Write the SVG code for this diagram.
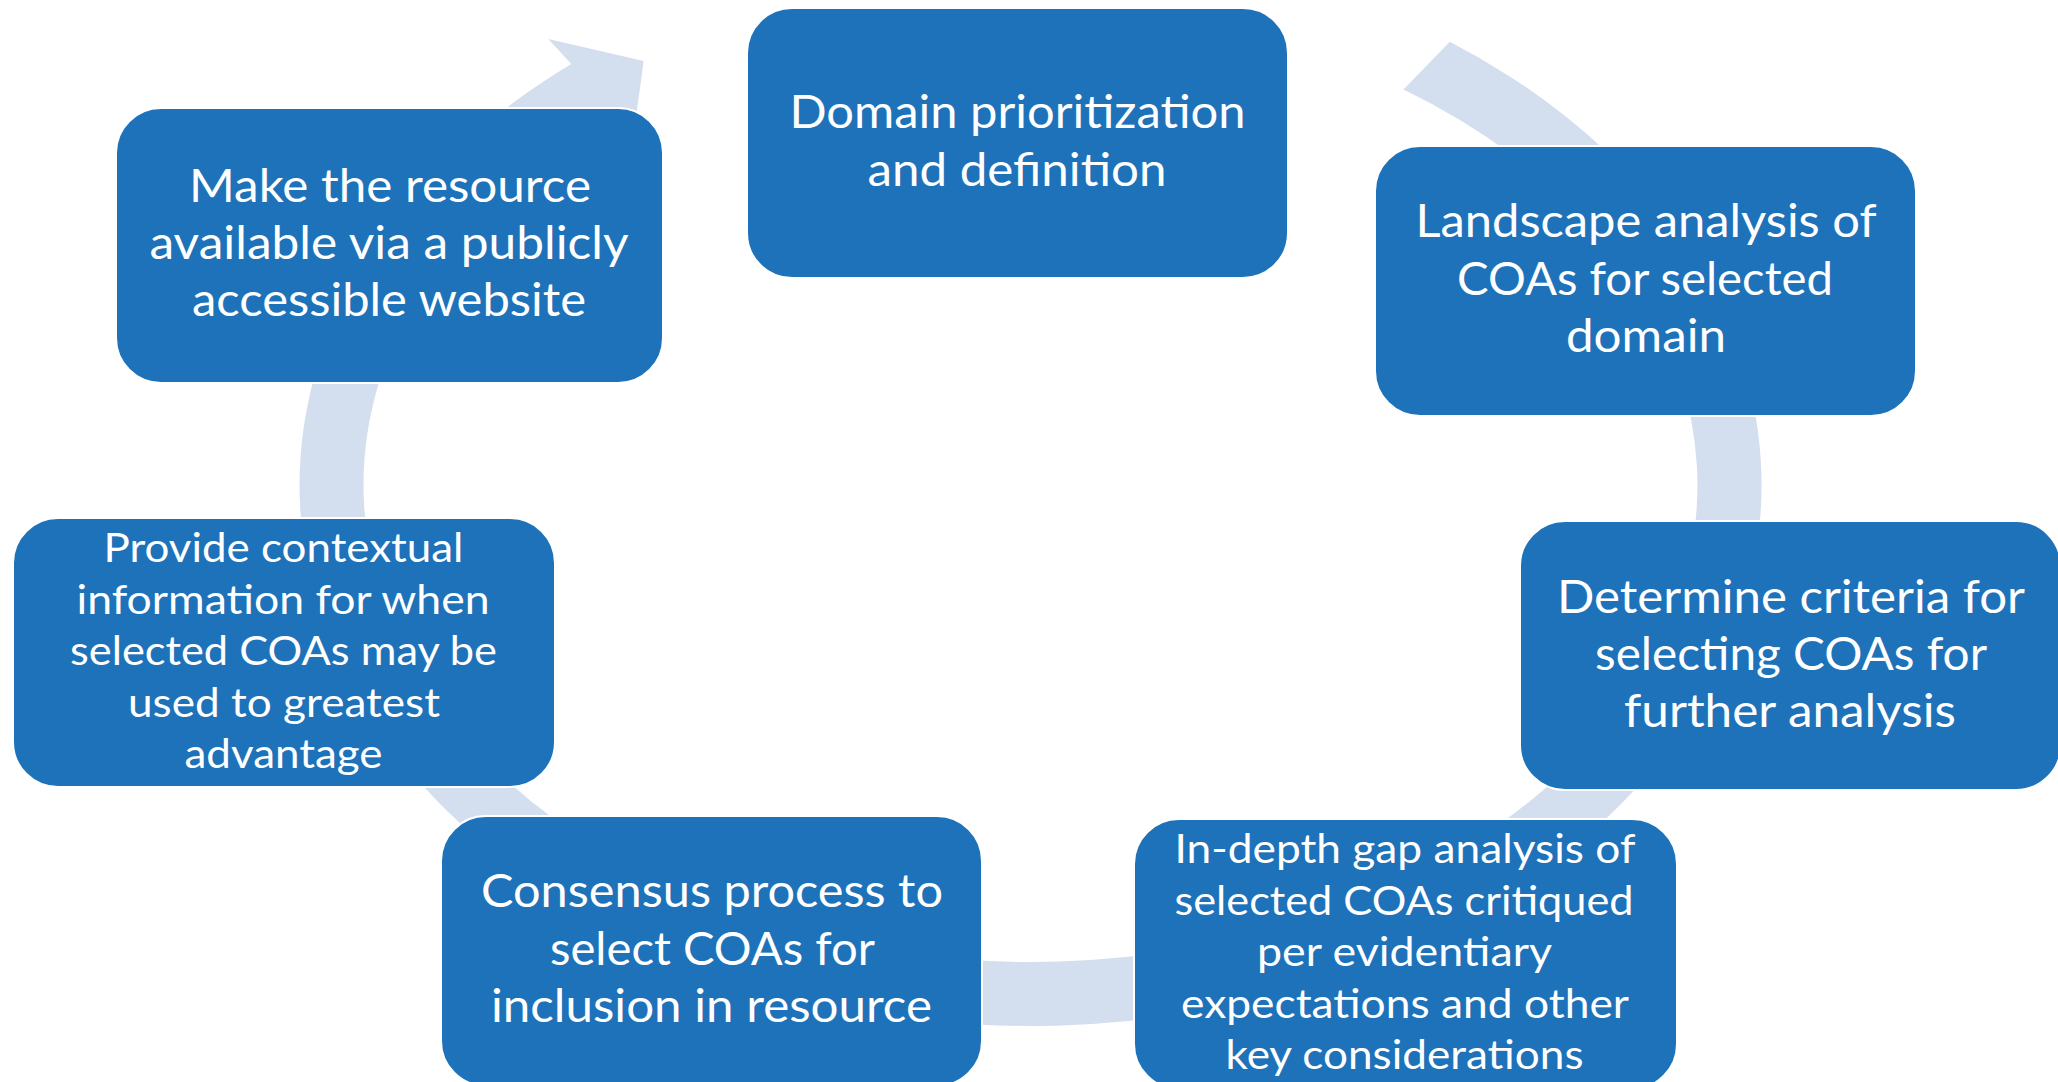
<svg xmlns="http://www.w3.org/2000/svg" width="2058" height="1082" viewBox="0 0 2058 1082">
<style>
.box{fill:#1E72BA;stroke:#FFFFFF;stroke-width:2}
.t{font-family:Lato,"Open Sans","Liberation Sans",sans-serif;fill:#FFFFFF;text-anchor:middle}
.big{font-size:46px}
.small{font-size:40px}
.band{fill:#D3DEEF}
</style>
<rect width="2058" height="1082" fill="#FFFFFF"/>
<g id="connectors">
<path class="band" d="M1449.8,41.8 A731,541 0 1 1 571.4,64.0 L548.2,39.1 L643.7,61.0 L633,138.7 L611.6,113.8 A667,477 0 1 0 1403.5,89.6 Z"/>
</g>
<g id="node-domain">
<rect class="box" x="747" y="8" width="541" height="270" rx="45"/>
<text class="t big"><tspan x="1017.5" y="128" textLength="456" lengthAdjust="spacingAndGlyphs">Domain prioritization</tspan><tspan x="1017" y="186" textLength="299" lengthAdjust="spacingAndGlyphs">and definition</tspan></text>
</g>
<g id="node-landscape">
<rect class="box" x="1375" y="146" width="541" height="270" rx="45"/>
<text class="t big"><tspan x="1646" y="237" textLength="461" lengthAdjust="spacingAndGlyphs">Landscape analysis of</tspan><tspan x="1645" y="295" textLength="376" lengthAdjust="spacingAndGlyphs">COAs for selected</tspan><tspan x="1646" y="352" textLength="160" lengthAdjust="spacingAndGlyphs">domain</tspan></text>
</g>
<g id="node-determine">
<rect class="box" x="1520" y="521" width="541" height="269" rx="45"/>
<text class="t big"><tspan x="1791" y="613" textLength="468" lengthAdjust="spacingAndGlyphs">Determine criteria for</tspan><tspan x="1791" y="670" textLength="392" lengthAdjust="spacingAndGlyphs">selecting COAs for</tspan><tspan x="1790" y="727" textLength="332" lengthAdjust="spacingAndGlyphs">further analysis</tspan></text>
</g>
<g id="node-indepth">
<rect class="box" x="1134" y="819" width="543" height="270" rx="45"/>
<text class="t small"><tspan x="1405" y="863" textLength="461" lengthAdjust="spacingAndGlyphs">In-depth gap analysis of</tspan><tspan x="1404" y="914.5" textLength="459" lengthAdjust="spacingAndGlyphs">selected COAs critiqued</tspan><tspan x="1404.5" y="966" textLength="295" lengthAdjust="spacingAndGlyphs">per evidentiary</tspan><tspan x="1405" y="1017.5" textLength="448" lengthAdjust="spacingAndGlyphs">expectations and other</tspan><tspan x="1404.5" y="1069" textLength="358" lengthAdjust="spacingAndGlyphs">key considerations</tspan></text>
</g>
<g id="node-consensus">
<rect class="box" x="441" y="816" width="541" height="270" rx="45"/>
<text class="t big"><tspan x="712" y="907" textLength="462" lengthAdjust="spacingAndGlyphs">Consensus process to</tspan><tspan x="712.5" y="964.5" textLength="325" lengthAdjust="spacingAndGlyphs">select COAs for</tspan><tspan x="711.5" y="1022" textLength="441" lengthAdjust="spacingAndGlyphs">inclusion in resource</tspan></text>
</g>
<g id="node-provide">
<rect class="box" x="13" y="518" width="542" height="269" rx="45"/>
<text class="t small"><tspan x="283.5" y="562" textLength="360" lengthAdjust="spacingAndGlyphs">Provide contextual</tspan><tspan x="283" y="613.5" textLength="413" lengthAdjust="spacingAndGlyphs">information for when</tspan><tspan x="283.5" y="665" textLength="427" lengthAdjust="spacingAndGlyphs">selected COAs may be</tspan><tspan x="284" y="716.5" textLength="312" lengthAdjust="spacingAndGlyphs">used to greatest</tspan><tspan x="283.5" y="768" textLength="198" lengthAdjust="spacingAndGlyphs">advantage</tspan></text>
</g>
<g id="node-make">
<rect class="box" x="116" y="108" width="547" height="275" rx="45"/>
<text class="t big"><tspan x="390" y="202" textLength="402" lengthAdjust="spacingAndGlyphs">Make the resource</tspan><tspan x="389" y="259" textLength="479" lengthAdjust="spacingAndGlyphs">available via a publicly</tspan><tspan x="389" y="316" textLength="394" lengthAdjust="spacingAndGlyphs">accessible website</tspan></text>
</g>
</svg>
